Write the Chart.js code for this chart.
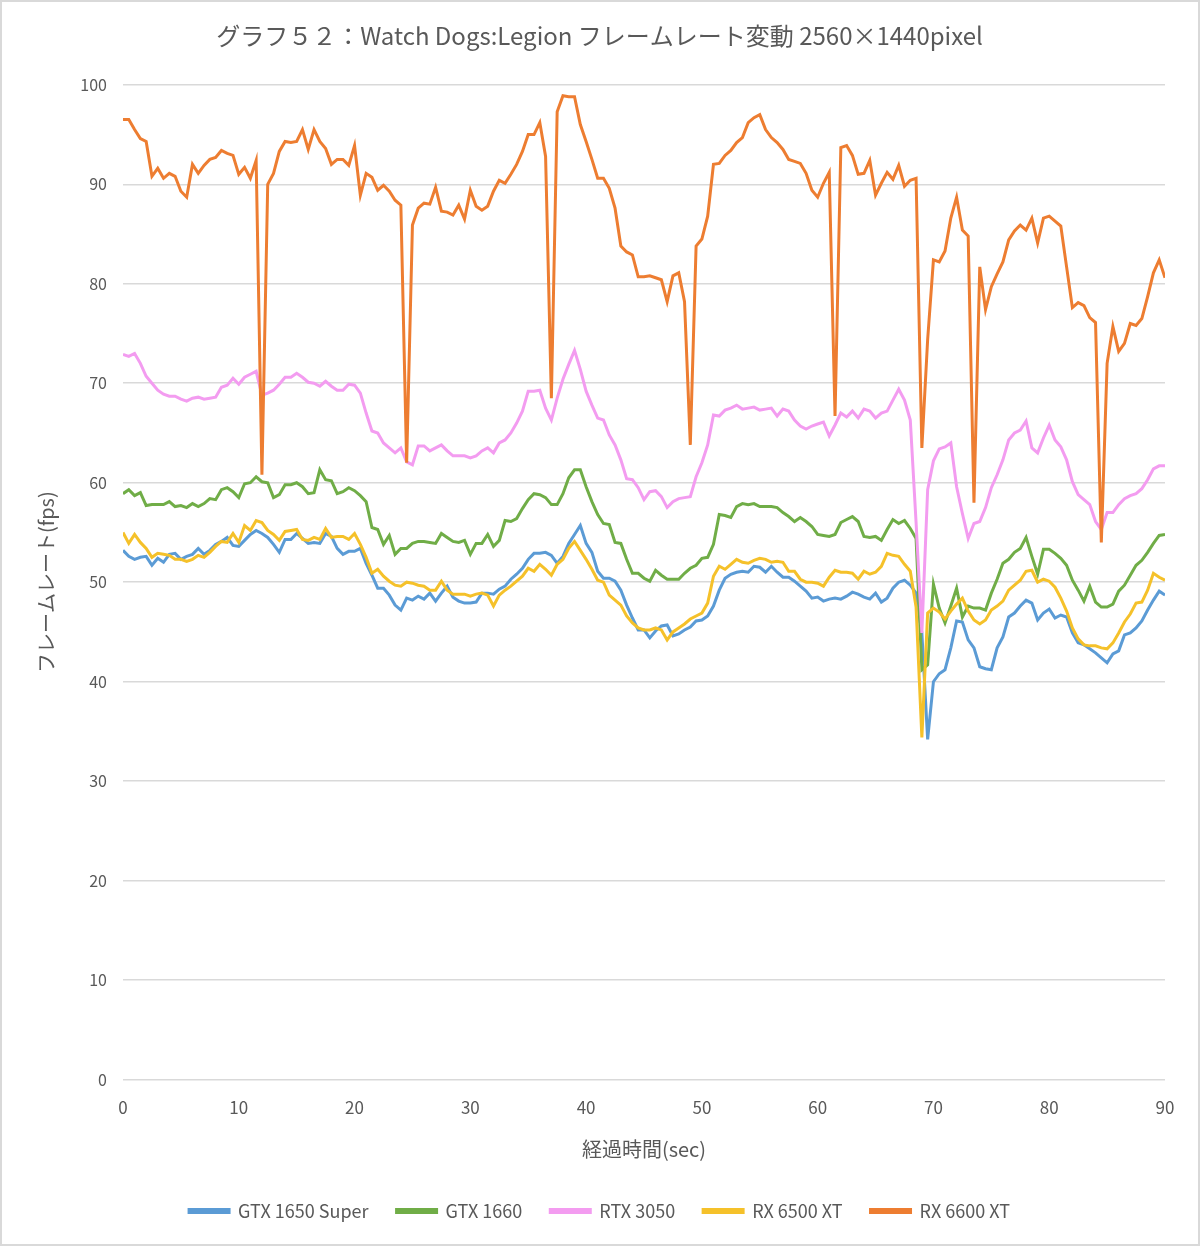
<!DOCTYPE html>
<html lang="ja">
<head>
<meta charset="utf-8">
<title>グラフ５２：Watch Dogs:Legion フレームレート変動</title>
<script src="https://cdn.jsdelivr.net/npm/chart.js@4.4.1/dist/chart.umd.min.js"></script>
<style>
  html, body { margin: 0; padding: 0; background: #fff; }
  #wrap { width: 1200px; height: 1246px; }
</style>
</head>
<body>
<div id="wrap"><canvas id="fpsChart" width="1200" height="1246"></canvas></div>
<script>
// 0.5秒ごとのサンプル (0〜90 sec)
const times = Array.from({ length: 181 }, (_, i) => i / 2);

const seriesNames = ['GTX 1650 Super', 'GTX 1660', 'RTX 3050', 'RX 6500 XT', 'RX 6600 XT'];
const seriesColors = ['#5b9bd5', '#70ad47', '#f39cf0', '#f5c12a', '#ed7d31'];

const gtx1650s = [
  53.2, 52.6, 52.3, 52.5, 52.6, 51.7, 52.4, 52.0, 52.8, 52.9,
  52.3, 52.6, 52.8, 53.4, 52.8, 53.2, 53.8, 54.1, 54.5, 53.7,
  53.6, 54.2, 54.8, 55.2, 54.9, 54.5, 53.8, 53.0, 54.3, 54.3,
  54.9, 54.4, 53.9, 54.0, 53.9, 54.9, 54.6, 53.4, 52.8, 53.1,
  53.1, 53.4, 51.9, 50.7, 49.4, 49.4, 48.7, 47.7, 47.2, 48.4,
  48.2, 48.6, 48.3, 48.9, 48.1, 48.9, 49.6, 48.5, 48.1, 47.9,
  47.9, 48.0, 48.9, 48.9, 48.8, 49.3, 49.6, 50.3, 50.8, 51.4,
  52.3, 52.9, 52.9, 53.0, 52.7, 51.9, 52.6, 53.9, 54.8, 55.7,
  53.9, 53.0, 51.1, 50.4, 50.4, 50.1, 49.2, 47.7, 46.4, 45.2,
  45.2, 44.4, 45.1, 45.6, 45.7, 44.6, 44.8, 45.2, 45.5, 46.1,
  46.2, 46.6, 47.6, 49.2, 50.4, 50.8, 51.0, 51.1, 51.0, 51.6,
  51.5, 51.0, 51.6, 51.0, 50.5, 50.5, 50.1, 49.6, 49.1, 48.4,
  48.5, 48.1, 48.3, 48.4, 48.3, 48.6, 49.0, 48.8, 48.5, 48.3,
  48.9, 48.0, 48.4, 49.4, 50.0, 50.2, 49.7, 48.9, 44.9, 34.2,
  40.0, 40.8, 41.2, 43.4, 46.1, 46.0, 44.2, 43.4, 41.5, 41.3,
  41.2, 43.4, 44.5, 46.5, 46.9, 47.6, 48.2, 47.9, 46.2, 46.9,
  47.3, 46.4, 46.7, 46.5, 44.9, 43.9, 43.7, 43.3, 42.9, 42.4,
  41.9, 42.8, 43.1, 44.7, 44.9, 45.4, 46.1, 47.2, 48.2, 49.1,
  48.7
];

const gtx1660 = [
  58.9, 59.3, 58.7, 59.0, 57.7, 57.8, 57.8, 57.8, 58.1, 57.6,
  57.7, 57.5, 57.9, 57.6, 57.9, 58.4, 58.3, 59.3, 59.5, 59.1,
  58.5, 59.9, 60.0, 60.6, 60.1, 60.0, 58.5, 58.8, 59.8, 59.8,
  60.0, 59.6, 58.9, 59.0, 61.3, 60.3, 60.2, 58.9, 59.1, 59.5,
  59.2, 58.7, 58.1, 55.5, 55.3, 53.8, 54.7, 52.8, 53.4, 53.4,
  53.9, 54.1, 54.1, 54.0, 53.9, 54.9, 54.5, 54.1, 54.0, 54.2,
  52.8, 53.9, 53.9, 54.8, 53.6, 54.2, 56.2, 56.1, 56.4, 57.4,
  58.3, 58.9, 58.8, 58.5, 57.8, 57.8, 58.9, 60.5, 61.3, 61.3,
  59.6, 58.1, 56.8, 55.9, 55.8, 54.0, 53.9, 52.3, 50.9, 50.9,
  50.4, 50.1, 51.2, 50.7, 50.3, 50.3, 50.3, 50.9, 51.4, 51.7,
  52.4, 52.5, 53.8, 56.8, 56.7, 56.5, 57.6, 57.9, 57.8, 57.9,
  57.6, 57.6, 57.6, 57.5, 57.0, 56.6, 56.1, 56.5, 56.1, 55.6,
  54.8, 54.7, 54.6, 54.8, 56.0, 56.3, 56.6, 56.1, 54.6, 54.5,
  54.6, 54.2, 55.3, 56.3, 55.9, 56.2, 55.4, 54.4, 41.2, 41.7,
  49.8, 47.4, 45.9, 47.6, 49.4, 46.5, 47.6, 47.4, 47.4, 47.2,
  48.9, 50.3, 51.9, 52.3, 53.0, 53.4, 54.5, 52.6, 50.8, 53.3,
  53.3, 52.9, 52.4, 51.7, 50.2, 49.2, 48.1, 49.6, 48.0, 47.5,
  47.5, 47.8, 49.1, 49.7, 50.7, 51.7, 52.2, 53.0, 53.9, 54.7,
  54.8
];

const rtx3050 = [
  72.9, 72.7, 73.0, 72.0, 70.7, 70.0, 69.3, 68.9, 68.7, 68.7,
  68.4, 68.2, 68.5, 68.6, 68.4, 68.5, 68.6, 69.6, 69.8, 70.5,
  69.9, 70.6, 70.9, 71.2, 68.8, 69.0, 69.3, 69.9, 70.6, 70.6,
  71.0, 70.6, 70.1, 70.0, 69.7, 70.2, 69.7, 69.3, 69.3, 69.9,
  69.8, 69.0, 67.0, 65.2, 65.0, 64.0, 63.5, 63.0, 63.5, 62.1,
  61.8, 63.7, 63.7, 63.2, 63.5, 63.8, 63.2, 62.7, 62.7, 62.7,
  62.5, 62.7, 63.2, 63.5, 63.0, 64.0, 64.3, 65.0, 66.0, 67.2,
  69.2, 69.2, 69.3, 67.5, 66.3, 68.5, 70.4, 71.9, 73.3, 71.4,
  69.2, 67.8, 66.5, 66.3, 64.8, 63.8, 62.3, 60.4, 60.3, 59.5,
  58.3, 59.1, 59.2, 58.6, 57.5, 58.1, 58.4, 58.5, 58.6, 60.6,
  62.0, 63.8, 66.8, 66.7, 67.3, 67.5, 67.8, 67.4, 67.5, 67.6,
  67.3, 67.4, 67.5, 66.7, 67.4, 67.2, 66.3, 65.7, 65.4, 65.7,
  65.9, 66.1, 64.7, 65.8, 67.0, 66.6, 67.2, 66.5, 67.4, 67.2,
  66.5, 67.0, 67.2, 68.3, 69.4, 68.3, 66.3, 56.0, 44.9, 59.3,
  62.2, 63.4, 63.6, 64.0, 59.6, 56.9, 54.4, 55.9, 56.1, 57.5,
  59.5, 60.8, 62.3, 64.3, 65.0, 65.3, 66.2, 63.5, 63.0, 64.5,
  65.8, 64.3, 63.6, 62.3, 60.1, 58.8, 58.3, 57.8, 56.1, 55.3,
  57.0, 57.0, 57.8, 58.4, 58.7, 58.9, 59.4, 60.3, 61.4, 61.7,
  61.7
];

const rx6500xt = [
  55.0, 53.9, 54.8, 54.0, 53.4, 52.5, 52.9, 52.8, 52.7, 52.3,
  52.3, 52.1, 52.3, 52.7, 52.5, 53.0, 53.6, 54.1, 54.0, 54.9,
  54.0, 55.7, 55.2, 56.2, 56.0, 55.2, 54.8, 54.2, 55.1, 55.2,
  55.3, 54.3, 54.2, 54.5, 54.3, 55.4, 54.5, 54.6, 54.6, 54.3,
  54.9, 53.8, 52.5, 50.9, 51.3, 50.6, 50.1, 49.7, 49.6, 50.0,
  49.9, 49.7, 49.6, 49.2, 49.2, 50.1, 49.2, 48.8, 48.8, 48.8,
  48.6, 48.8, 48.9, 48.7, 47.6, 48.7, 49.2, 49.6, 50.1, 50.6,
  51.4, 51.1, 51.8, 51.3, 50.7, 51.8, 52.3, 53.4, 54.1, 53.2,
  52.3, 51.3, 50.2, 50.0, 48.7, 48.2, 47.7, 46.6, 45.9, 45.4,
  45.2, 45.2, 45.4, 45.2, 44.2, 45.0, 45.4, 45.8, 46.3, 46.6,
  46.9, 47.9, 50.6, 51.6, 51.3, 51.8, 52.3, 52.0, 51.9, 52.2,
  52.4, 52.3, 52.0, 52.1, 52.0, 51.1, 51.1, 50.3, 50.0, 50.0,
  49.9, 49.6, 50.5, 51.2, 51.0, 51.0, 50.9, 50.3, 51.1, 50.8,
  51.0, 51.6, 52.9, 52.7, 52.6, 51.8, 51.1, 47.5, 34.4, 46.9,
  47.4, 47.0, 46.3, 47.1, 47.8, 48.4, 47.1, 46.2, 45.8, 46.2,
  47.2, 47.6, 48.1, 49.2, 49.7, 50.2, 51.1, 51.2, 50.0, 50.3,
  50.1, 49.5, 48.4, 47.1, 45.4, 44.3, 43.7, 43.6, 43.6, 43.4,
  43.3, 43.9, 44.9, 46.0, 46.8, 47.9, 48.0, 49.2, 50.9, 50.5,
  50.2
];

const rx6600xt = [
  96.5, 96.5, 95.5, 94.6, 94.3, 90.8, 91.6, 90.6, 91.1, 90.8,
  89.3, 88.7, 92.0, 91.1, 91.9, 92.5, 92.7, 93.4, 93.1, 92.9,
  91.0, 91.7, 90.6, 92.4, 60.8, 90.0, 91.1, 93.3, 94.3, 94.2,
  94.3, 95.5, 93.5, 95.5, 94.3, 93.6, 92.0, 92.5, 92.5, 91.9,
  93.9, 88.9, 91.1, 90.7, 89.4, 89.9, 89.3, 88.4, 87.9, 62.0,
  85.9, 87.6, 88.1, 88.0, 89.7, 87.3, 87.2, 86.9, 87.9, 86.5,
  89.4, 87.8, 87.4, 87.8, 89.3, 90.4, 90.1, 91.0, 92.0, 93.3,
  95.0, 95.0, 96.2, 92.8, 68.5, 97.3, 98.9, 98.8, 98.8, 96.0,
  94.3, 92.5, 90.6, 90.6, 89.6, 87.6, 83.8, 83.2, 82.9, 80.7,
  80.7, 80.8, 80.6, 80.4, 78.2, 80.8, 81.1, 78.2, 63.8, 83.8,
  84.5, 86.8, 92.0, 92.1, 92.9, 93.4, 94.2, 94.7, 96.2, 96.7,
  97.0, 95.5, 94.7, 94.2, 93.5, 92.5, 92.3, 92.1, 91.1, 89.4,
  88.7, 90.1, 91.2, 66.7, 93.7, 93.9, 92.9, 91.0, 91.1, 92.4,
  88.9, 90.1, 91.2, 90.5, 91.9, 89.8, 90.4, 90.6, 63.5, 74.4,
  82.4, 82.2, 83.3, 86.6, 88.7, 85.4, 84.8, 58.0, 81.7, 77.4,
  79.7, 81.0, 82.2, 84.4, 85.3, 85.9, 85.4, 86.6, 84.1, 86.6,
  86.8, 86.3, 85.8, 81.7, 77.6, 78.1, 77.8, 76.6, 76.1, 54.0,
  72.0, 75.7, 73.2, 74.0, 76.0, 75.8, 76.5, 78.7, 81.1, 82.4,
  80.6
];

const seriesValues = [gtx1650s, gtx1660, rtx3050, rx6500xt, rx6600xt];

const FONT = "'Noto Sans CJK JP', 'Noto Sans', sans-serif";
const TEXT = '#595959';

// 背景と外枠
const framePlugin = {
  id: 'frame',
  beforeDraw(chart) {
    const { ctx, width, height } = chart;
    ctx.save();
    ctx.fillStyle = '#fff';
    ctx.fillRect(0, 0, width, height);
    ctx.strokeStyle = '#d9d9d9';
    ctx.lineWidth = 2;
    ctx.strokeRect(1, 1, width - 2, height - 2);
    ctx.restore();
  }
};

const datasets = seriesNames.map((name, i) => ({
  label: name,
  data: seriesValues[i].map((v, j) => ({ x: times[j], y: v })),
  borderColor: seriesColors[i],
  backgroundColor: seriesColors[i],
  borderWidth: 3,
  pointRadius: 0,
  tension: 0,
  order: seriesNames.length - i   // 後の系列ほど手前に描く
}));

new Chart(document.getElementById('fpsChart'), {
  type: 'line',
  data: { datasets },
  plugins: [framePlugin],
  options: {
    responsive: false,
    animation: false,
    layout: { padding: { left: 34, right: 35, top: 0, bottom: 16 } },
    plugins: {
      title: {
        display: true,
        text: 'グラフ５２：Watch Dogs:Legion フレームレート変動 2560×1440pixel',
        color: TEXT,
        font: { family: FONT, size: 24, weight: 'normal' },
        padding: { top: 21, bottom: 35 }
      },
      legend: {
        position: 'bottom',
        labels: {
          color: TEXT,
          font: { family: FONT, size: 18 },
          boxWidth: 40,
          boxHeight: 3,
          padding: 28,
          sort: (a, b) => a.datasetIndex - b.datasetIndex
        }
      },
      tooltip: { enabled: false }
    },
    scales: {
      x: {
        type: 'linear',
        min: 0,
        max: 90,
        ticks: { stepSize: 10, color: TEXT, font: { family: FONT, size: 17 }, padding: 10 },
        grid: { display: false },
        border: { display: false },
        title: {
          display: true,
          text: '経過時間(sec)',
          color: TEXT,
          font: { family: FONT, size: 20 },
          padding: { top: 9, bottom: 13 }
        }
      },
      y: {
        min: 0,
        max: 100,
        ticks: { stepSize: 10, color: TEXT, font: { family: FONT, size: 16 }, padding: 16 },
        grid: { color: '#d9d9d9', lineWidth: 1.5, drawTicks: false },
        border: { display: false },
        title: {
          display: true,
          text: 'フレームレート(fps)',
          color: TEXT,
          font: { family: FONT, size: 20 },
          padding: { top: 0, bottom: 6 }
        },
        afterFit(scale) { scale.width = 89; }
      }
    }
  }
});
</script>
</body>
</html>
